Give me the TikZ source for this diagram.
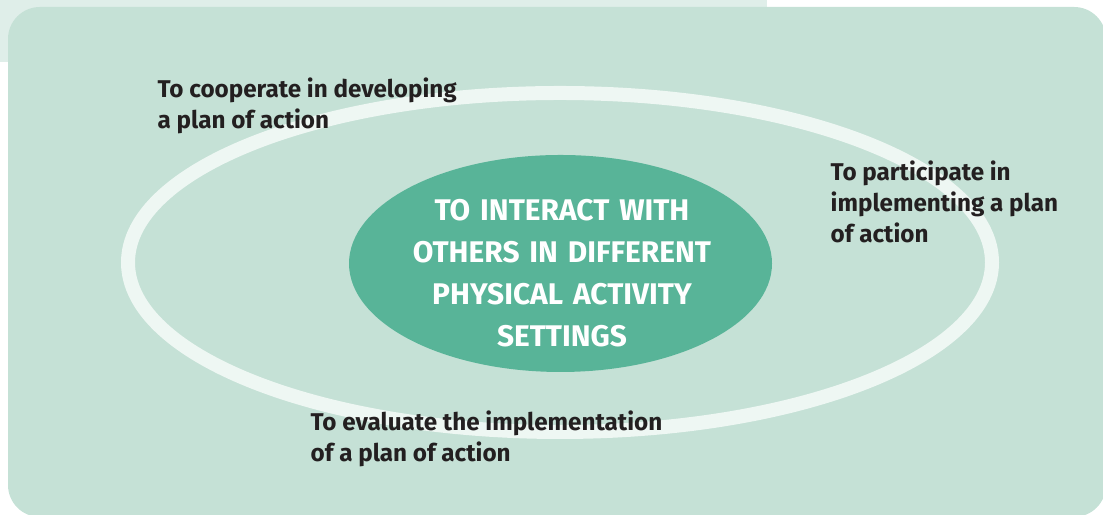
\documentclass[tikz,border=0pt]{standalone}
\usepackage{fontspec}
\setsansfont{Fira Sans}
\newfontfamily\goalfont[WordSpace=1.4]{Fira Sans}
\usepackage{tikz}
\usetikzlibrary{shapes.geometric}

\definecolor{tabgreen}{HTML}{DFEEE9}
\definecolor{boxgreen}{HTML}{C5E1D6}
\definecolor{ringwhite}{HTML}{EEF7F3}
\definecolor{ovalgreen}{HTML}{58B498}
\definecolor{inkblack}{HTML}{231F20}

\tikzset{
	aimtext/.style={anchor=north west, inner sep=0pt, align=left, text=inkblack,
		font=\sffamily\bfseries\fontsize{6.9}{8.9}\selectfont},
	goaltext/.style={inner sep=0pt, align=center, text=white,
		font=\goalfont\bfseries\fontsize{8.5}{11.9}\selectfont}
}

\begin{document}
\begin{tikzpicture}
			%%%%% START %%%%%
			\useasboundingbox (0, 0) rectangle (11.03, 5.15);
			
			\fill[tabgreen] (0, 4.53) rectangle (7.67, 5.15);
			\fill[boxgreen, rounded corners=0.32cm] (0.08, -0.02) rectangle (11.06, 5.08);
			
			% ring and centre oval
			\draw[line width=0.14cm, color=ringwhite] (5.60, 2.525) ellipse [x radius=4.32, y radius=1.695];
			\node[ellipse, fill=ovalgreen, inner sep=0pt, minimum width=4.23cm, minimum height=2.17cm] (goal) at (5.605, 2.515) {};
			\node[goaltext] (goaltxt) at (5.62, 2.42) {TO INTERACT WITH\\OTHERS IN DIFFERENT\\PHYSICAL ACTIVITY\\SETTINGS};
			
			% the three aims round the ring
			\node[aimtext] (coop) at (1.57, 4.38) {To cooperate in developing\\a plan of action};
			\node[aimtext] (partic) at (8.30, 3.55) {To participate in\\implementing a plan\\of action};
			\node[aimtext] (evaluate) at (3.10, 1.05) {To evaluate the implementation\\of a plan of action};
			
			%%%%% END %%%%%
\end{tikzpicture}
\end{document}
